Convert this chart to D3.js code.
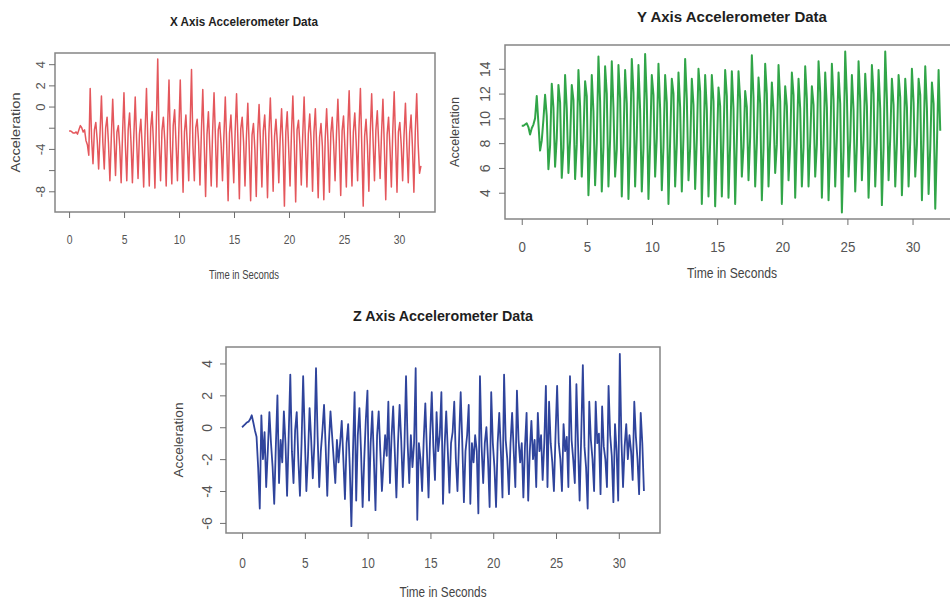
<!DOCTYPE html>
<html>
<head>
<meta charset="utf-8">
<script src="https://cdn.jsdelivr.net/npm/d3@7"></script>
<style>
  body { margin: 0; background: #fff; }
  text { font-family: "Liberation Sans", Arial, sans-serif; }
</style>
</head>
<body>
<div id="chart"></div>
<script>
// Sampling interval of the accelerometer traces (seconds)
const sampleStep = 0.128;

// X axis acceleration, one value per sample
const xAccel = [
  -2.3, -2.3, -2.4, -2.5, -2.5, -2.4, -2.6, -2.2, -1.8, -2.0, -2.4, -2.2, -3.2, -3.6, -4.6,
  1.7, -3.0, -5.4, -2.2, -1.5, -3.2, -5.9, -2.5,
  1.0, -3.4, -5.9, -2.0, -1.0, -3.5, -7.0, -3.0,
  0.7, -3.0, -6.5, -2.4, -1.8, -3.8, -7.2, -2.6,
  1.3, -3.6, -7.0, -2.2, -0.6, -3.4, -7.2, -2.8,
  0.9, -3.2, -6.8, -2.6, -1.2, -3.9, -7.6, -2.4,
  1.7, -3.5, -7.5, -2.0, -0.5, -3.6, -7.7, -1.6,
  4.5, -3.3, -7.0, -2.3, -1.0, -3.2, -7.5, -2.0,
  2.5, -3.8, -7.3, -1.8, -0.3, -3.5, -7.0, -2.2,
  2.5, -3.1, -8.1, -2.4, -0.8, -3.6, -7.0, -1.9,
  3.5, -3.7, -7.0, -2.0, -1.2, -3.3, -7.4, -2.5,
  1.6, -3.4, -8.5, -2.6, -0.5, -3.9, -7.5, -2.3,
  1.3, -3.0, -7.6, -2.2, -1.5, -3.5, -7.0, -2.8,
  0.9, -3.6, -8.9, -2.5, -0.8, -3.8, -7.2, -2.4,
  1.2, -3.3, -8.7, -2.1, -1.0, -3.4, -7.5, -2.9,
  0.3, -3.9, -8.9, -2.7, -1.6, -4.0, -8.5, -2.6,
  0.2, -3.5, -7.6, -2.3, -0.8, -3.7, -8.6, -2.5,
  0.8, -3.2, -8.0, -2.8, -1.2, -3.5, -7.2, -3.0,
  -0.2, -3.8, -9.4, -2.4, -0.5, -3.9, -7.5, -2.6,
  1.0, -3.4, -9.0, -2.2, -1.3, -3.6, -7.4, -2.8,
  0.9, -3.7, -7.6, -2.6, -0.7, -3.3, -8.0, -2.4,
  -0.2, -4.0, -8.6, -2.9, -1.6, -3.8, -8.8, -3.0,
  -0.2, -3.5, -8.1, -2.5, -1.0, -3.6, -7.0, -2.6,
  0.7, -3.3, -8.4, -2.3, -0.9, -3.9, -7.6, -2.2,
  1.5, -3.6, -7.5, -2.4, -0.6, -3.4, -7.0, -2.0,
  1.7, -3.9, -9.4, -2.8, -1.2, -3.7, -8.0, -2.5,
  1.2, -3.2, -7.0, -2.2, -0.4, -3.5, -6.8, -2.6,
  0.7, -3.8, -8.8, -2.6, -1.0, -3.9, -7.6, -2.3,
  1.4, -3.4, -8.1, -2.4, -1.5, -3.6, -7.0, -2.7,
  0.3, -3.7, -7.2, -2.5, -0.8, -3.9, -8.1, -2.4,
  1.2, -3.5, -6.3, -5.6
];

// Y axis acceleration
const yAccel = [
  9.4, 9.4, 9.5, 9.6, 9.3, 8.7, 9.2, 9.5, 10.0,
  11.8, 9.6, 7.4, 8.2, 9.9,
  11.9, 10.2, 5.9, 7.8,   12.8, 10.9, 6.1, 8.4,   12.7, 11.3, 5.2, 7.6,   13.5, 10.8, 5.6, 8.2,
  12.7, 11.5, 5.1, 7.9,   13.9, 11.0, 5.3, 8.5,   13.0, 11.8, 3.8, 7.4,   13.5, 10.6, 4.6, 8.0,
  15.0, 11.4, 4.1, 7.7,   14.2, 12.0, 4.5, 8.3,   14.6, 10.9, 5.3, 7.5,   14.3, 11.6, 3.7, 8.1,
  13.9, 11.2, 3.5, 7.8,   14.8, 12.1, 4.5, 8.6,   14.3, 10.7, 4.1, 7.6,   15.2, 11.5, 3.5, 8.0,
  13.5, 11.9, 5.3, 8.4,   14.4, 10.8, 4.2, 7.7,   13.5, 11.3, 3.1, 8.2,   13.2, 12.0, 4.5, 7.9,
  13.7, 10.9, 4.1, 8.5,   14.8, 11.6, 5.0, 7.6,   13.2, 11.1, 4.3, 8.3,   14.0, 12.2, 3.1, 7.8,
  13.5, 10.7, 3.7, 8.1,   13.5, 11.4, 2.9, 7.5,   12.5, 11.0, 3.7, 8.4,   13.9, 11.8, 3.6, 7.9,
  13.8, 10.8, 3.1, 8.2,   13.8, 11.5, 5.3, 7.7,   12.2, 10.9, 5.0, 8.5,   15.1, 11.7, 4.5, 8.0,
  13.3, 11.2, 3.4, 7.6,   14.4, 12.0, 4.5, 8.3,   12.9, 10.6, 5.6, 7.9,   14.3, 11.4, 3.1, 8.1,
  12.6, 11.0, 5.0, 7.8,   13.7, 11.9, 3.6, 8.4,   13.2, 10.8, 4.5, 7.7,   14.2, 11.6, 4.5, 8.2,
  12.6, 11.1, 5.3, 7.9,   14.6, 12.1, 3.6, 8.0,   13.7, 10.9, 3.4, 7.6,   14.4, 11.5, 4.5, 8.5,
  13.7, 11.2, 2.4, 7.4,   15.4, 11.8, 5.3, 8.2,   13.5, 10.7, 4.1, 7.9,   14.6, 11.4, 5.0, 8.3,
  13.6, 11.0, 3.6, 7.8,   14.3, 12.0, 4.5, 8.1,   13.9, 10.8, 3.0, 7.6,   15.4, 11.6, 5.0, 8.4,
  13.2, 11.1, 4.5, 8.0,   13.5, 11.7, 3.8, 7.7,   13.2, 10.9, 4.5, 8.2,   14.0, 11.3, 5.3, 7.9,
  13.2, 11.9, 3.4, 8.3,   14.2, 10.8, 3.9, 7.6,   12.9, 11.2, 2.7, 7.8,
  13.9, 9.0
];

// Z axis acceleration
const zAccel = [
  0.0, 0.1, 0.2, 0.3, 0.35, 0.5, 0.75, 0.3, -0.2, -0.6,
  -2.5, -5.1, 0.75, -2.0, -0.3, -3.75, -1.5, 0.95, -1.0, -2.5,
  -4.8, -1.2, 2.0, -3.5, -0.8, -2.2, 1.0, -1.0, -4.3, -0.5,
  3.3, -1.5, -3.5, -0.2, 0.95, -2.0, -4.3, -1.0, 3.2, -0.5,
  -4.0, -1.8, 1.2, -0.8, -3.2, -1.0, 3.7, -0.6, -3.75, -1.5,
  -0.2, 1.4, -1.2, -4.3, -1.0, 1.0, -0.5, -2.0, -3.5, -0.8,
  -2.2, -1.0, 0.4, -2.0, -4.5, -1.0, 0.2, -2.5, -6.2, -1.5,
  2.2, -4.6, -0.5, 1.2, -1.5, -5.0, -2.0, 0.5, 2.3, -4.6,
  -1.0, 1.0, -2.0, -5.2, -0.5, 1.0, -1.5, -4.0, -2.2, -0.5,
  -1.8, 1.6, -3.5, -0.6, 1.3, -1.5, -4.4, -1.0, 1.4, -0.8,
  -3.75, -1.2, 3.2, -1.0, -3.5, -0.5, -2.5, -1.0, 3.7, -5.8,
  -1.0, -2.0, -4.0, -0.8, 1.5, -1.5, -4.4, -0.5, 2.2, -1.2,
  -3.3, 0.95, -1.5, -0.5, 2.2, -4.8, -1.2, 1.0, -1.5, -4.1,
  -1.0, -0.3, 1.6, -2.0, -4.0, -0.8, 2.2, -1.0, -4.7, -1.5,
  -0.5, 1.4, -4.8, -1.0, -2.2, -0.5, -1.5, -5.4, 3.2, -1.2,
  -3.5, -1.0, 0.0, -2.0, -5.0, 2.2, -1.0, -2.5, -5.0, -1.0,
  0.9, -1.5, -4.4, 3.3, -0.8, -2.0, -4.2, -1.0, 0.9, -1.5,
  -3.75, 2.3, -0.8, -2.2, -1.0, -4.4, -1.2, 0.9, -4.6, -1.5,
  0.4, -2.0, -0.8, -3.75, 0.9, -1.5, -0.5, -3.3, -1.0, 2.6,
  -3.75, 1.6, -1.0, -2.2, -4.0, -0.5, 2.6, -1.0, -2.0, -4.0,
  0.2, -1.5, -0.6, -3.75, 3.2, -0.8, -2.0, -3.5, 2.7, -1.0,
  -4.6, -0.5, 3.9, -1.2, -2.5, -5.1, 1.6, -0.8, -2.0, -4.0,
  1.6, -1.0, -0.4, -4.2, 1.3, -1.2, -2.0, -3.75, 2.6, -0.5,
  -1.8, -4.7, 0.2, -1.5, -4.6, 4.6, -0.8, -3.75, -1.2, 0.2,
  -2.0, -0.5, -1.5, -3.3, 1.6, -0.6, -2.0, -4.2, 0.9, -1.0,
  -4.0
];

// Axis ticks
const timeTicks = [0, 5, 10, 15, 20, 25, 30];
const xAccelTicks = [-8, -6, -4, -2, 0, 2, 4];
const xAccelLabels = [-8, -4, 0, 2, 4];
const yAccelTicks = [4, 6, 8, 10, 12, 14];
const zAccelTicks = [-6, -4, -2, 0, 2, 4];

const titles = ["X Axis Accelerometer Data", "Y Axis Accelerometer Data", "Z Axis Accelerometer Data"];
const xTitle = "Time in Seconds";
const yTitle = "Acceleration";

const svg = d3.select("#chart")
    .append("svg")
    .attr("width", 950)
    .attr("height", 601);

svg.append("rect").attr("width", 950).attr("height", 601).attr("fill", "#fff");

// R style axis range: data extent plus 4% on each side
function padDomain([lo, hi]) {
    const d = (hi - lo) * 0.04;
    return [lo - d, hi + d];
}

const panels = [
    { id: "px", values: xAccel, title: titles[0], color: "#e4575c", lw: 1.5,
      left: 55, top: 53, right: 435, bottom: 212, titleX: 244,
      yTicks: xAccelTicks, yLabels: xAccelLabels,
      titleY: 26, titleSize: 13, titleLen: 148,
      tickSize: 13, tickSx: 0.8, tickPad: 27, yTickBase: 10,
      xlabY: 279, xlabSize: 13, xlabLen: 70,
      ylabX: 20, ylabSize: 12, ylabLen: 80 },
    { id: "py", values: yAccel, title: titles[1], color: "#31a548", lw: 2,
      left: 505, top: 45, right: 957, bottom: 219, titleX: 732,
      yTicks: yAccelTicks, yLabels: yAccelTicks,
      titleY: 22, titleSize: 14, titleLen: 190,
      tickSize: 14, tickSx: 0.95, tickPad: 28, yTickBase: 15,
      xlabY: 278, xlabSize: 14, xlabLen: 90,
      ylabX: 459, ylabSize: 13, ylabLen: 70 },
    { id: "pz", values: zAccel, title: titles[2], color: "#2f449c", lw: 1.8,
      left: 226, top: 347, right: 660, bottom: 533, titleX: 443,
      yTicks: zAccelTicks, yLabels: zAccelTicks,
      titleY: 321, titleSize: 14, titleLen: 180,
      tickSize: 14, tickSx: 0.85, tickPad: 30, yTickBase: 14,
      xlabY: 597, xlabSize: 14, xlabLen: 87,
      ylabX: 183, ylabSize: 13, ylabLen: 75 }
];

panels.forEach(p => {
    const n = p.values.length;
    const x = d3.scaleLinear()
        .domain(padDomain([0, (n - 1) * sampleStep]))
        .range([p.left, p.right]);
    const y = d3.scaleLinear()
        .domain(padDomain(d3.extent(p.values)))
        .range([p.bottom, p.top]);

    const g = svg.append("g");

    g.append("clipPath").attr("id", "clip-" + p.id)
        .append("rect")
        .attr("x", p.left).attr("y", p.top)
        .attr("width", p.right - p.left).attr("height", p.bottom - p.top);

    const line = d3.line()
        .x((d, i) => x(i * sampleStep))
        .y(d => y(d));

    g.append("path")
        .datum(p.values)
        .attr("clip-path", `url(#clip-${p.id})`)
        .attr("fill", "none")
        .attr("stroke", p.color)
        .attr("stroke-width", p.lw)
        .attr("stroke-linejoin", "round")
        .attr("d", line);

    // plot frame
    g.append("rect")
        .attr("x", p.left).attr("y", p.top)
        .attr("width", p.right - p.left).attr("height", p.bottom - p.top)
        .attr("fill", "none")
        .attr("stroke", "#858585")
        .attr("stroke-width", 1.5);

    // bottom axis
    const xAxis = g.append("g")
        .attr("transform", `translate(0,${p.bottom})`)
        .call(d3.axisBottom(x).tickValues(timeTicks).tickSize(6).tickFormat(d => String(d)));
    xAxis.select(".domain").remove();
    xAxis.selectAll("line").attr("stroke", "#6e6e6e");
    xAxis.selectAll("text")
        .attr("y", null).attr("dy", null)
        .attr("font-size", p.tickSize)
        .attr("fill", "#555")
        .attr("transform", `translate(0,${p.tickPad + 5}) scale(${p.tickSx},1)`);

    // left axis, labels turned like R's default
    const yAxis = g.append("g")
        .attr("transform", `translate(${p.left},0)`)
        .call(d3.axisLeft(y).tickValues(p.yTicks).tickSize(6)
            .tickFormat(d => p.yLabels.includes(d) ? String(d) : ""));
    yAxis.select(".domain").remove();
    yAxis.selectAll("line").attr("stroke", "#6e6e6e");
    yAxis.selectAll("text")
        .attr("x", null).attr("dy", null)
        .attr("text-anchor", "middle")
        .attr("font-size", p.tickSize)
        .attr("fill", "#555")
        .attr("transform", `translate(${-p.yTickBase},0) rotate(-90)`);

    // titles
    g.append("text")
        .attr("x", p.titleX)
        .attr("y", p.titleY)
        .attr("text-anchor", "middle")
        .attr("font-weight", "bold")
        .attr("font-size", p.titleSize)
        .attr("fill", "#1e1e1e")
        .attr("textLength", p.titleLen)
        .attr("lengthAdjust", "spacingAndGlyphs")
        .text(p.title);

    g.append("text")
        .attr("x", p.titleX)
        .attr("y", p.xlabY)
        .attr("text-anchor", "middle")
        .attr("font-size", p.xlabSize)
        .attr("fill", "#444")
        .attr("textLength", p.xlabLen)
        .attr("lengthAdjust", "spacingAndGlyphs")
        .text(xTitle);

    g.append("text")
        .attr("transform", `translate(${p.ylabX},${(p.top + p.bottom) / 2}) rotate(-90)`)
        .attr("text-anchor", "middle")
        .attr("font-size", p.ylabSize)
        .attr("fill", "#444")
        .attr("textLength", p.ylabLen)
        .attr("lengthAdjust", "spacingAndGlyphs")
        .text(yTitle);
});
</script>
</body>
</html>
